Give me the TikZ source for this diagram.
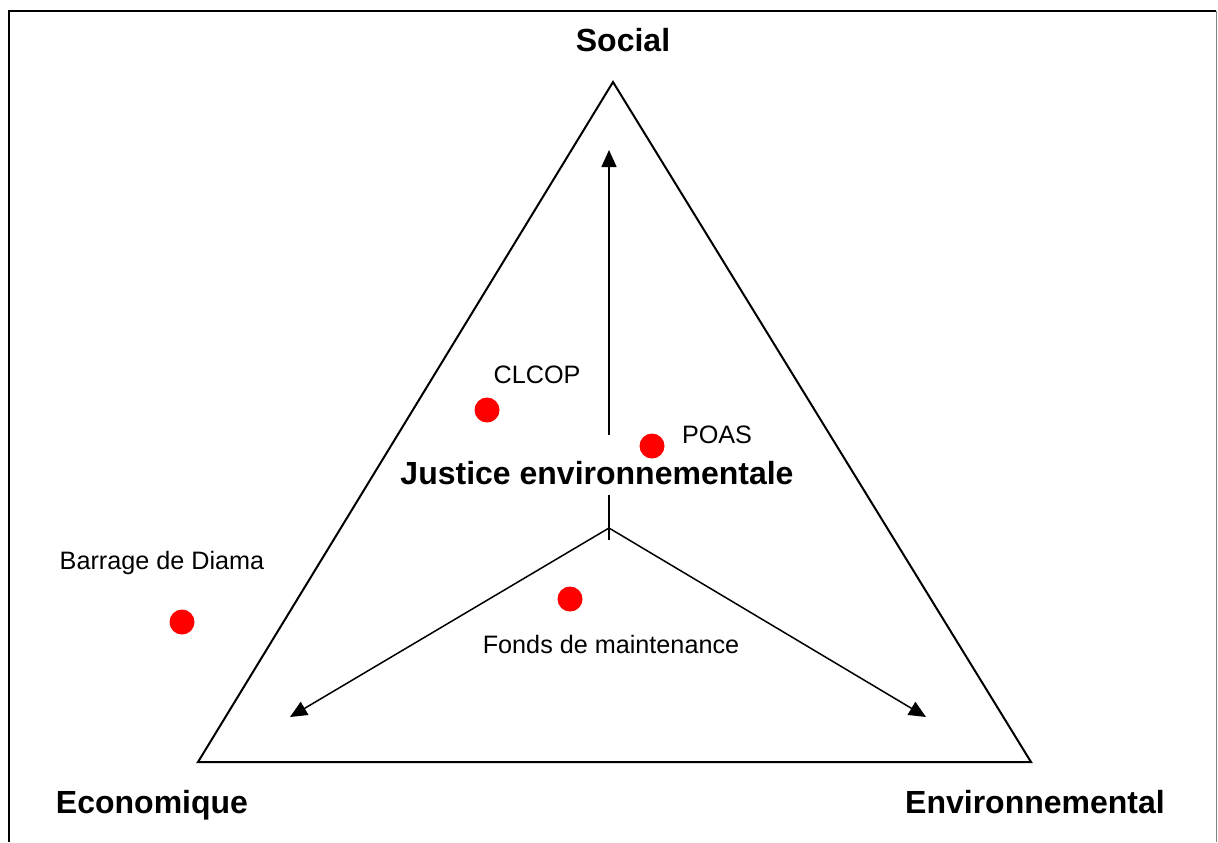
\documentclass[tikz,border=0pt]{standalone}
\usepackage{fontspec}
\setmainfont{Liberation Sans}
\usetikzlibrary{arrows.meta}

\begin{document}
\begin{tikzpicture}[x=0.5pt,y=-0.5pt,
    axis/.style={line width=0.75pt,-{Triangle[length=8.5pt,width=7.5pt]}},
    pole/.style={font=\fontsize{16}{19}\selectfont\bfseries},
    case/.style={circle,fill=red,inner sep=0pt,minimum size=12.5pt},
    caselabel/.style={font=\fontsize{12.6}{15}\selectfont}]
  \useasboundingbox (0,0) rectangle (1218,842);
  % frame
  \draw[line width=1pt] (9,842) -- (9,11) -- (1216,11);
  \draw[line width=0.5pt,gray] (1216,11) -- (1216,842);
  % triangle
  \coordinate (top) at (613,82);
  \coordinate (left) at (198,762);
  \coordinate (right) at (1031,762);
  \draw[line width=1pt] (top) -- (left) -- (right) -- cycle;
  % axes
  \coordinate (centre) at (609,528);
  \coordinate (stubtop) at (609,495);
  \coordinate (stubend) at (609,540);
  \coordinate (upfoot) at (609,435);
  \coordinate (uptip) at (609,150);
  \coordinate (lefttip) at (290,717);
  \coordinate (righttip) at (926,717);
  \draw[line width=0.75pt] (stubtop) -- (stubend);
  \draw[axis] (upfoot) -- (uptip);
  \draw[axis] (centre) -- (lefttip);
  \draw[axis] (centre) -- (righttip);
  % poles
  \node[pole] (social) at (623,40) {Social};
  \node[pole] (eco) at (152,805) {Economique};
  \node[pole] (env) at (1035,802) {Environnemental};
  \node[pole] (justice) at (597,473) {Justice environnementale};
  % cases
  \node[case] (clcop) at (487,410) {};
  \node[caselabel] (clcoplabel) at (537,375) {CLCOP};
  \node[case] (poas) at (652,446) {};
  \node[caselabel] (poaslabel) at (717,435) {POAS};
  \node[case] (fonds) at (570,599) {};
  \node[caselabel] (fondslabel) at (611,644) {Fonds de maintenance};
  \node[case] (diama) at (182,622) {};
  \node[caselabel] (diamalabel) at (162,563) {Barrage de Diama};
\end{tikzpicture}
\end{document}
